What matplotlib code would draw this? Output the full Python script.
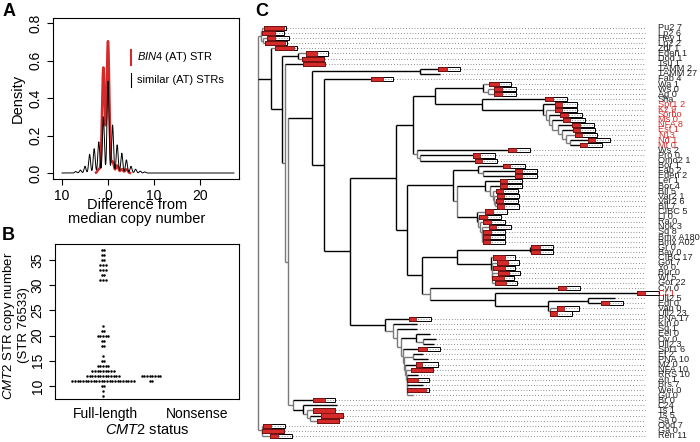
import numpy as np
import matplotlib
matplotlib.use("Agg")
import matplotlib.pyplot as plt
from matplotlib.patches import Rectangle

plt.rcParams['font.family'] = ['Liberation Sans', 'DejaVu Sans']
plt.rcParams['mathtext.fontset'] = 'custom'
plt.rcParams['mathtext.rm'] = 'Liberation Sans'
plt.rcParams['mathtext.it'] = 'Liberation Sans:italic'

# --- Panel A: copy number difference from the median ---
similar_offsets = [-7, -6, -5, -4, -3, -2, -1, 0, 1, 2, 3, 4, 5, 6, 7, 8]
similar_counts = [4, 8, 18, 50, 65, 83, 150, 245, 128, 75, 53, 35, 18, 10, 5, 3]
similar_bw = 0.21
similar_range = (-10.0, 27.4)

bin4_offsets = [-2, -1, 0, 1, 2, 3, 4]
bin4_counts = [1, 28, 35, 3, 2, 1, 1]
bin4_bw = 0.28
bin4_range = (-2.6, 4.8)

# --- Panel B: CMT2 STR copy number by CMT2 status ---
groups = ["Full-length", "Nonsense"]
full_length_cn = ([37] * 2 + [36] * 2 + [35] * 2 + [34] * 3 + [33] * 3 + [32] * 2 + [31] * 3
                  + [22] + [21] * 2 + [20] * 5 + [19] * 2 + [18] * 2 + [16] + [15] * 2
                  + [14] * 5 + [13] * 9 + [12] * 13 + [11] * 24 + [10] * 2 + [9] + [8])
nonsense_cn = [12] * 8 + [11] * 2

# --- Panel C: tree (branch lengths) and STR bars at tips ---
clade_top = "((Pu2 7:2,Lp2 6:0):1,(Hey 1:4,Lp2 2:2):2):3"
clade_red = ("(Spr1 2:12,(Kz 9:9,(Sorbo:11,(Ms 0:11,(NFA 8:14,(Est 1:11,(N13:9,"
             "(Nd 1:18,Mt 0:10):4):4):4):6):3):3):3):61")
clade_wa = "((Wa 1:6,(Ws 0:6,Ag 0:6):5):48,(Sha:63," + clade_red + "):47):22"
clade_ws = "(Ws 2:91,(Pro 0:53,Omo2 1:55):3):4"
clade_bor = ("((Bor 1:25,(Fab 2:32,Eden 2:32):5):25,((Ler 1:15,(Bor 4:10,(Bil 5:3,"
             "(Var2 1:3,(Var2 6:1,Bil 7:2):1):1):3):5):28,(CIBC 5:8,(Ll 0:1,(Ra 0:3,"
             "(Nok 3:7,(Sq 8:1,Bmx A180:1,Bmx A02:1):0):2):2):1):20):4):46")
clade_cvi = ("(((Gr 0:1,Bay 0:1):73,(CIBC 17:2,(Got 7:5,Yo 0:1,(Bur 0:6,Wl 5:0,Got 22:3):0):1):34):35,"
             "(Cvi 0:128,(Ct 1:142,((Ull2 5:27,Edi 0:13):40,(Van 0:7,Ull2 23:0):2):53):65):8):15")
clade_pna = ("(PNA 17:24,(Kin 0:24,(Sq 1:20,((Eel 0:14,(Ov 0:13,Ull2 3:11):7):15,(Spr1 6:15,"
             "((El 2:10,PNA 10:15):9,(Mz 0:11,(NFA 10:5,(RRS 10:11,(An 1:0,(Brs 7:16,Wei 0:0,"
             "Gu 0:6):0):0):1):1):1):1):2):4):4):8):35")
clade_ts = "(Br 0:20,(C24:34,(Ts 1:6,(Ts 5:11,Sa 0:7):3):4):10):5"
clade_main = ("(Zdr 1:4,((Eden 1:8,Dod 1:4):16,(Tsu 1:18,(((TAMM 2:18,TAMM 27:20):108,"
              "(Fab 4:47,(((" + clade_wa + "," + clade_ws + "):17,(" + clade_bor + "," + clade_cvi
              + "):11):46," + clade_pna + "):26):12):24," + clade_ts + "):3):3):11):13")
clade_bottom = "(Ood 7:1,(Ga 0:0,Ren 11:8):0):4"
tree_newick = "(" + clade_top + "," + clade_main + "," + clade_bottom + ");"

# fraction of each tip bar filled red (nan = no bar), in tip order
red_frac = [0.9, 0.6, 0.35, 0.9, 0.85, 0.5, 1.0, 1.0, 0.4, np.nan,
            0.55, 0.45, 0.35, 0.35, 0.35, 0.3, 0.3, 0.35, 0.3, 0.35,
            0.3, 0.3, 0.3, 0.3, 0.35, 0.33, 0.33, 0.3, 0.3, 0.3,
            0.33, 0.33, 0.33, 0.33, 0.33, 0.33, 0.35, 0.35, 0.35, 0.33,
            0.38, 0.33, 0.33, 0.4, 0.4, 0.55, 0.5, 0.55, 0.5, 0.55,
            0.5, 0.35, 0.35, np.nan, 0.35, 0.33, 0.33, 0.3, np.nan, np.nan,
            np.nan, np.nan, np.nan, 0.4, np.nan, np.nan, 0.27, 1.0, np.nan, 0.5,
            np.nan, 0.85, np.nan, 0.55, np.nan, 1.0, 1.0, 1.0, 0.35, 1.0,
            0.35]
red_tips = ["Spr1 2", "Kz 9", "Sorbo", "Ms 0", "NFA 8", "Est 1", "N13", "Nd 1", "Mt 0", "Ct 1"]

RED = "#d42a2a"
GREY = "#7a7a7a"


def parse_newick(s):
    pos = 0

    def node():
        nonlocal pos
        kids = []
        if s[pos] == "(":
            pos += 1
            kids.append(node())
            while s[pos] == ",":
                pos += 1
                kids.append(node())
            pos += 1
        start = pos
        while s[pos] not in ":,);":
            pos += 1
        name = s[start:pos]
        length = 0.0
        if s[pos] == ":":
            pos += 1
            start = pos
            while s[pos] not in ",);":
                pos += 1
            length = float(s[start:pos])
        return {"name": name, "len": length, "kids": kids}

    return node()


def gauss_density(grid, pts, counts, bw):
    pts = np.asarray(pts, float)
    w = np.asarray(counts, float)
    w = w / w.sum()
    z = (grid[:, None] - pts[None, :]) / bw
    return (w * np.exp(-0.5 * z ** 2)).sum(axis=1) / (bw * np.sqrt(2 * np.pi))


W, H = 700, 442
fig = plt.figure(figsize=(7, 4.42), dpi=100)


def px_axes(x0, y0, x1, y1):
    return fig.add_axes([x0 / W, 1 - y1 / H, (x1 - x0) / W, (y1 - y0) / H])


# ---------------- Panel A ----------------
axA = px_axes(53, 18, 239, 179)
g = np.linspace(*bin4_range, 800)
axA.plot(g, gauss_density(g, bin4_offsets, bin4_counts, bin4_bw), color=RED, lw=1.8)
g = np.linspace(*similar_range, 3000)
axA.plot(g, gauss_density(g, similar_offsets, similar_counts, similar_bw), color="black", lw=0.7)
axA.set_xlim(-11.96, 28.5)
axA.set_ylim(-0.032, 0.827)
axA.set_xticks([-10, 0, 10, 20])
axA.set_xticklabels(["10", "0", "10", "20"])
axA.set_yticks([0, 0.2, 0.4, 0.6, 0.8])
axA.set_yticklabels(["0.0", "0.2", "0.4", "0.6", "0.8"], rotation=90, va="center")
axA.tick_params(labelsize=10, length=4, width=0.8)
axA.set_ylabel("Density", fontsize=10.5, labelpad=3)
axA.set_xlabel("Difference from\nmedian copy number", fontsize=10.5, labelpad=1, linespacing=1.0)
axA.xaxis.set_label_coords(0.45, -0.12, transform=axA.transAxes)
axA.xaxis.label.set_va("top")
axA.plot([0.42, 0.42], [0.708, 0.80], color=RED, lw=1.5, transform=axA.transAxes)
axA.plot([0.42, 0.42], [0.571, 0.661], color="black", lw=0.8, transform=axA.transAxes)
axA.text(0.45, 0.755, r"$\mathit{BIN4}$ (AT) STR", transform=axA.transAxes, fontsize=8, va="center")
axA.text(0.45, 0.615, "similar (AT) STRs", transform=axA.transAxes, fontsize=8, va="center")
fig.text(3 / W, 1 - 12 / H, "A", fontsize=13, fontweight="bold", va="center")

# ---------------- Panel B ----------------
axB = px_axes(55, 244, 239, 399)
dot_step = 0.029
dot_centers = [0.98, 1.5]
for cx, vals in zip(dot_centers, [full_length_cn, nonsense_cn]):
    vals = np.asarray(vals)
    for v in np.unique(vals):
        n = int((vals == v).sum())
        xs = cx + (np.arange(n) - (n - 1) / 2) * dot_step
        axB.scatter(xs, np.full(n, v), s=3.2, color="black", linewidths=0)
axB.set_xlim(0.457, 2.457)
axB.set_ylim(7.4, 38.2)
axB.set_xticks([1, 2])
axB.set_xticklabels(groups)
axB.tick_params(axis="x", length=0, pad=6)
axB.set_yticks([10, 15, 20, 25, 30, 35])
axB.set_yticklabels(["10", "15", "20", "25", "30", "35"], rotation=90, va="center")
axB.tick_params(labelsize=10, width=0.8)
axB.tick_params(axis="y", length=4)
axB.set_ylabel(r"$\mathit{CMT2}$ STR copy number" + "\n(STR 76533)", fontsize=9.5,
               linespacing=1.15, va="center")
axB.yaxis.set_label_coords(-0.215, 0.475, transform=axB.transAxes)
axB.set_xlabel(r"$\mathit{CMT2}$ status", fontsize=10.5, labelpad=1)
fig.text(2 / W, 1 - 236 / H, "B", fontsize=13, fontweight="bold", va="center")

# ---------------- Panel C ----------------
axC = px_axes(250, 0, 700, 442)
axC.set_xlim(-8, 442)
axC.set_ylim(82.18, -4.49)
axC.axis("off")

root = parse_newick(tree_newick)
tips = []


def layout(nd, x0):
    nd["x"] = x0 + nd["len"]
    if not nd["kids"]:
        tips.append(nd)
        nd["y"] = len(tips)
        return
    for k in nd["kids"]:
        layout(k, nd["x"])
    nd["y"] = (nd["kids"][0]["y"] + nd["kids"][-1]["y"]) / 2


layout(root, 0.0)


def draw(nd, parent_x):
    col = GREY if nd["len"] < 10 else "black"
    if parent_x is not None:
        axC.plot([parent_x, nd["x"]], [nd["y"], nd["y"]], color=col, lw=1.0,
                 solid_capstyle="butt", zorder=2)
    if nd["kids"]:
        axC.plot([nd["x"], nd["x"]], [nd["kids"][0]["y"], nd["kids"][-1]["y"]],
                 color=col, lw=1.0, solid_capstyle="butt", zorder=2)
        for k in nd["kids"]:
            draw(k, nd["x"])


draw(root, None)

bar_w, bar_h = 22, 0.82
dots_end, label_x = 387, 400
for tip, frac in zip(tips, red_frac):
    x, y = tip["x"], tip["y"]
    if not np.isnan(frac):
        axC.add_patch(Rectangle((x, y - bar_h / 2), bar_w, bar_h, facecolor="white",
                                edgecolor="black", lw=0.7, zorder=3))
    axC.plot([x, dots_end], [y, y], color="#444444", lw=0.6, ls=(0, (0.8, 2.6)), zorder=4)
    if not np.isnan(frac):
        axC.add_patch(Rectangle((x, y - bar_h / 2), bar_w * frac, bar_h, facecolor=RED,
                                edgecolor="#7a1010", lw=0.5, zorder=5))
    axC.text(label_x, y, tip["name"], fontsize=6.6, va="center", ha="left",
             color=RED if tip["name"] in red_tips else "#222222",
             family=["Liberation Sans Narrow", "Liberation Sans", "DejaVu Sans"])

fig.text(255 / W, 1 - 11 / H, "C", fontsize=13, fontweight="bold", va="center")

fig.savefig("out.png", dpi=100)
